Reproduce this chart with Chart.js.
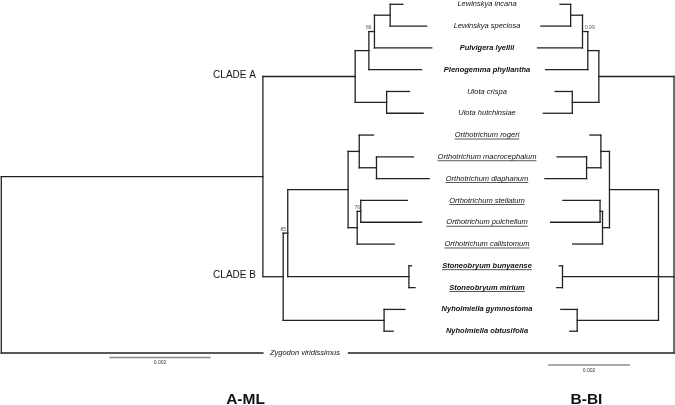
<!DOCTYPE html>
<html>
<head>
<meta charset="utf-8">
<script src="https://cdn.jsdelivr.net/npm/chart.js@4.4.1/dist/chart.umd.min.js"></script>
<style>
  html, body { margin: 0; padding: 0; background: #fff; }
  #tree { display: block; }
</style>
</head>
<body>
<canvas id="tree" width="675" height="405"></canvas>
<script>
// taxa, top to bottom (y = row index)
var taxa = [
  "Lewinskya incana", "Lewinskya speciosa", "Pulvigera lyellii", "Plenogemma phyllantha",
  "Ulota crispa", "Ulota hutchinsiae", "Orthotrichum rogeri", "Orthotrichum macrocephalum",
  "Orthotrichum diaphanum", "Orthotrichum stellatum", "Orthotrichum pulchellum",
  "Orthotrichum callistomum", "Stoneobryum bunyaense", "Stoneobryum mirium",
  "Nyholmiella gymnostoma", "Nyholmiella obtusifolia", "Zygodon viridissimus"
];
var boldGenera = ["Pulvigera", "Plenogemma", "Stoneobryum", "Nyholmiella"];
var underlinedGenera = ["Orthotrichum", "Stoneobryum"];

// A-ML tree: depth from root (subst./site)
var mlTipParent = ["lew", "lew", "a2", "a1", "ulota", "ulota", "o1", "o2", "o2", "o4", "o4", "o3", "stoneo", "stoneo", "nyh", "nyh", "root"];
var mlTipDepth = [0.00792, 0.00839, 0.00849, 0.00829, 0.00805, 0.00832, 0.00734, 0.00813, 0.00844,
                  0.00801, 0.00829, 0.00775, 0.00809, 0.00816, 0.00796, 0.00773, 0.00516];
var mlNodeNames  = ["root", "ingroup", "cladeA", "a1", "a2", "lew", "ulota", "cladeB", "b1", "ortho", "o1", "o2", "o3", "o4", "stoneo", "nyh"];
var mlNodeParent = [null, "root", "ingroup", "cladeA", "a1", "a2", "cladeA", "ingroup", "cladeB", "b1", "ortho", "o1", "ortho", "o3", "b1", "cladeB"];
var mlNodeDepth  = [0, 0.00516, 0.00698, 0.00725, 0.00736, 0.00767, 0.00760, 0.00556, 0.00565, 0.00684, 0.00706, 0.00740, 0.00702, 0.00709, 0.00804, 0.00755];
var mlSupportAt = ["a2", "b1", "o4"];
var mlSupport = ["86", "85", "76"];

// B-BI tree: depth from root (subst./site), drawn right to left
var biTipParent = ["lew", "lew", "a2", "a1", "ulota", "ulota", "o1", "o2", "o2", "o4", "o4", "o3", "stoneo", "stoneo", "nyh", "nyh", "root"];
var biTipDepth = [0.00279, 0.00326, 0.00334, 0.00314, 0.00291, 0.00320, 0.00206, 0.00286, 0.00316,
                  0.00272, 0.00302, 0.00248, 0.00281, 0.00287, 0.00277, 0.00255, 0.00797];
var biNodeNames  = ["root", "cladeA", "a1", "a2", "lew", "ulota", "cladeB", "ortho", "o1", "o2", "o3", "o4", "stoneo", "nyh"];
var biNodeParent = [null, "root", "cladeA", "a1", "a2", "cladeA", "root", "cladeB", "ortho", "o1", "ortho", "o3", "cladeB", "cladeB"];
var biNodeDepth  = [0, 0.00184, 0.00211, 0.00224, 0.00253, 0.00249, 0.00038, 0.00158, 0.00179, 0.00214, 0.00175, 0.00181, 0.00273, 0.00237];
var biSupportAt = ["a2"];
var biSupport = ["0.99"];

var scaleBar = 0.002;

var FONT = "'Liberation Sans', Arial, sans-serif";
var LINE = "#222";

function buildTree(tipParent, tipDepth, nodeNames, nodeParent, nodeDepth) {
  var nodes = {};
  nodeNames.forEach(function (n, i) {
    nodes[n] = { name: n, depth: nodeDepth[i], parent: nodeParent[i], kids: [] };
  });
  var tips = taxa.map(function (t, i) {
    return { name: t, depth: tipDepth[i], parent: tipParent[i], y: i, kids: [] };
  });
  tips.forEach(function (t) { nodes[t.parent].kids.push(t); });
  nodeNames.forEach(function (n) {
    var p = nodes[n].parent;
    if (p) nodes[p].kids.push(nodes[n]);
  });
  function place(nd) {
    if (nd.y != null) return nd.y;
    nd.kids.forEach(place);
    nd.kids.sort(function (a, b) { return a.y - b.y; });
    var k = nd.kids;
    nd.y = k.length % 2 ? k[(k.length - 1) / 2].y : (k[0].y + k[k.length - 1].y) / 2;
    return nd.y;
  }
  place(nodes.root);

  var segs = [];
  tips.concat(nodeNames.map(function (n) { return nodes[n]; })).forEach(function (nd) {
    if (nd.parent) {
      segs.push([{ x: nodes[nd.parent].depth, y: nd.y }, { x: nd.depth, y: nd.y }]);
    }
    if (nd.kids.length) {
      segs.push([{ x: nd.depth, y: nd.kids[0].y }, { x: nd.depth, y: nd.kids[nd.kids.length - 1].y }]);
    }
  });
  return { nodes: nodes, segs: segs };
}

var ml = buildTree(mlTipParent, mlTipDepth, mlNodeNames, mlNodeParent, mlNodeDepth);
var bi = buildTree(biTipParent, biTipDepth, biNodeNames, biNodeParent, biNodeDepth);

function segSets(segs, axis) {
  return segs.map(function (s) {
    return {
      data: s, xAxisID: axis, showLine: true, borderColor: LINE, borderWidth: 1.3,
      pointRadius: 0, borderCapStyle: "square", fill: false
    };
  });
}

var datasets = segSets(ml.segs, "xml").concat(segSets(bi.segs, "xbi"));
// scale bars
datasets.push({
  data: [{ x: 0.00213, y: 16.21 }, { x: 0.00213 + scaleBar, y: 16.21 }], xAxisID: "xml",
  showLine: true, borderColor: "#8a8a8a", borderWidth: 1.5, pointRadius: 0
});
datasets.push({
  data: [{ x: 0.00108, y: 16.55 }, { x: 0.00108 + scaleBar, y: 16.55 }], xAxisID: "xbi",
  showLine: true, borderColor: "#555", borderWidth: 1, pointRadius: 0
});

function genus(t) { return t.split(" ")[0]; }

var labelPlugin = {
  id: "treeLabels",
  afterDatasetsDraw: function (chart) {
    var c = chart.ctx, y = chart.scales.y, xm = chart.scales.xml, xb = chart.scales.xbi;
    c.save();
    c.fillStyle = "#111";

    // taxon names, centered between the two trees
    taxa.forEach(function (t, i) {
      var bold = boldGenera.indexOf(genus(t)) >= 0;
      var under = underlinedGenera.indexOf(genus(t)) >= 0;
      var py = y.getPixelForValue(i);
      c.font = "italic " + (bold ? "bold " : "") + "7.5px " + FONT;
      c.textBaseline = "middle";
      if (i === taxa.length - 1) {
        c.textAlign = "left";
        c.fillText(t, xm.getPixelForValue(mlTipDepth[i]) + 7, py);
        return;
      }
      c.textAlign = "center";
      var cx = 487;
      c.fillText(t, cx, py);
      if (under) {
        var w = c.measureText(t).width;
        c.fillRect(cx - w / 2, py + 3.6, w, 0.7);
      }
    });

    // support values
    c.font = "5px " + FONT;
    c.fillStyle = "#555";
    c.textAlign = "center";
    c.textBaseline = "alphabetic";
    mlSupportAt.forEach(function (n, i) {
      var nd = ml.nodes[n];
      c.fillText(mlSupport[i], xm.getPixelForValue(ml.nodes[nd.parent].depth), y.getPixelForValue(nd.y) - 2.5);
    });
    biSupportAt.forEach(function (n, i) {
      var nd = bi.nodes[n];
      c.fillText(biSupport[i], xb.getPixelForValue(bi.nodes[nd.parent].depth) + 2, y.getPixelForValue(nd.y) - 2.5);
    });

    // scale bar labels
    c.font = "5px " + FONT;
    c.fillStyle = "#333";
    c.textBaseline = "middle";
    c.fillText(String(scaleBar), (xm.getPixelForValue(0.00213) + xm.getPixelForValue(0.00213 + scaleBar)) / 2, y.getPixelForValue(16.21) + 5.5);
    c.fillText(String(scaleBar), (xb.getPixelForValue(0.00108) + xb.getPixelForValue(0.00108 + scaleBar)) / 2, y.getPixelForValue(16.55) + 6);

    // clade labels
    c.font = "10px " + FONT;
    c.fillStyle = "#111";
    c.textAlign = "right";
    ["cladeA", "cladeB"].forEach(function (n, i) {
      var nd = ml.nodes[n];
      c.fillText(i ? "CLADE B" : "CLADE A", xm.getPixelForValue(ml.nodes[nd.parent].depth) - 7, y.getPixelForValue(nd.y) - 1.5);
    });

    // panel titles
    c.font = "bold 15.5px " + FONT;
    c.textAlign = "center";
    c.textBaseline = "alphabetic";
    c.fillText("A-ML", 245.5, 403.5);
    c.fillText("B-BI", 586.5, 403.5);
    c.restore();
  }
};

new Chart(document.getElementById("tree"), {
  type: "scatter",
  data: { datasets: datasets },
  options: {
    responsive: false,
    animation: false,
    layout: { padding: 0 },
    plugins: { legend: { display: false }, tooltip: { enabled: false } },
    elements: { line: { tension: 0 } },
    scales: {
      xml: { type: "linear", display: false, min: -0.0000256, max: 0.013288 },
      xbi: { type: "linear", display: false, reverse: true, min: -0.0000245, max: 0.0165 },
      y: { type: "linear", display: false, reverse: true, min: -0.1973, max: 18.386 }
    }
  },
  plugins: [labelPlugin]
});
</script>
</body>
</html>
